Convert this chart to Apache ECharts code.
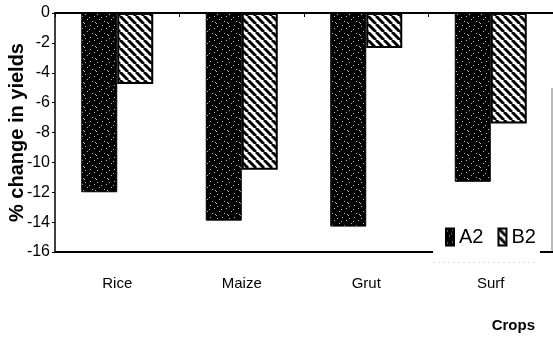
<!DOCTYPE html>
<html>
<head>
<meta charset="utf-8">
<script src="https://cdn.jsdelivr.net/npm/echarts@6/dist/echarts.min.js"></script>
<style>
  html, body { margin: 0; padding: 0; background: #fff; }
  #chart { width: 553px; height: 339px; }
</style>
</head>
<body>
<div id="chart"></div>
<script>
  // data
  const crops = ['Rice', 'Maize', 'Grut', 'Surf'];
  const a2 = [-12.0, -13.9, -14.3, -11.3];
  const b2 = [-4.75, -10.5, -2.35, -7.4];
  const yTicks = { min: -16, max: 0, interval: 2 };

  const FONT = "'Liberation Sans', Arial, sans-serif";

  // stippled black fill for A2
  function dotPattern() {
    const c = document.createElement('canvas');
    c.width = 12; c.height = 12;
    const ctx = c.getContext('2d');
    ctx.fillStyle = '#000';
    ctx.fillRect(0, 0, 12, 12);
    ctx.fillStyle = 'rgba(255,255,255,0.75)';
    const pts = [[1, 2], [6, 1], [10, 4], [3, 7], [8, 9], [0, 11], [5, 5], [11, 10]];
    pts.forEach(p => ctx.fillRect(p[0], p[1], 1, 1));
    return c;
  }

  // diagonal hatch for B2
  function hatchPattern() {
    const s = 8;
    const c = document.createElement('canvas');
    c.width = s; c.height = s;
    const ctx = c.getContext('2d');
    ctx.fillStyle = '#fff';
    ctx.fillRect(0, 0, s, s);
    ctx.strokeStyle = '#000';
    ctx.lineWidth = 3;
    for (let k = -1; k <= 1; k++) {
      ctx.beginPath();
      ctx.moveTo(k * s, 0);
      ctx.lineTo(k * s + s, s);
      ctx.stroke();
    }
    return c;
  }

  const chart = echarts.init(document.getElementById('chart'));
  const option = {
    backgroundColor: '#fff',
    animation: false,
    textStyle: { fontFamily: FONT, color: '#000' },
    grid: { left: 55, right: 0, top: 13, bottom: 87, containLabel: false, outerBoundsMode: 'none' },
    legend: {
      data: ['A2', 'B2'],
      left: 433,
      top: 215,
      padding: [12, 4, 15, 12],
      backgroundColor: '#fff',
      icon: 'rect',
      itemWidth: 8,
      itemHeight: 17,
      itemGap: 14,
      textStyle: { fontFamily: FONT, fontSize: 20, color: '#000' }
    },
    xAxis: [{
      type: 'category',
      data: crops,
      position: 'bottom',
      axisLine: { onZero: false, lineStyle: { color: '#000', width: 2 } },
      axisTick: { show: false },
      axisLabel: { margin: 24, fontSize: 15, color: '#000', fontFamily: FONT }
    }, {
      type: 'category',
      data: crops,
      position: 'top',
      axisLine: { onZero: false, lineStyle: { color: '#000', width: 2 } },
      axisTick: { show: true, inside: true, length: 4, lineStyle: { color: '#000' } },
      axisLabel: { show: false }
    }],
    yAxis: {
      type: 'value',
      min: yTicks.min,
      max: yTicks.max,
      interval: yTicks.interval,
      name: '% change in yields',
      nameLocation: 'middle',
      nameGap: 28,
      nameMoveOverlap: false,
      nameTextStyle: { fontSize: 20, fontWeight: 'bold', color: '#000', fontFamily: FONT },
      axisLine: { show: true, lineStyle: { color: '#000', width: 1.5 } },
      axisTick: { show: true, length: 3, lineStyle: { color: '#000' } },
      axisLabel: { fontSize: 16, color: '#000', margin: 5, fontFamily: FONT },
      splitLine: { show: false }
    },
    series: [{
      name: 'A2',
      type: 'bar',
      data: a2,
      barWidth: 36,
      barGap: '0%',
      itemStyle: {
        color: { image: dotPattern(), repeat: 'repeat' },
        borderColor: '#000',
        borderWidth: 1
      }
    }, {
      name: 'B2',
      type: 'bar',
      data: b2,
      barWidth: 36,
      itemStyle: {
        color: { image: hatchPattern(), repeat: 'repeat' },
        borderColor: '#000',
        borderWidth: 2
      }
    }],
    graphic: [{
      type: 'text',
      right: 18,
      top: 318,
      style: { text: 'Crops', fontSize: 15, fontWeight: 'bold', fill: '#000', fontFamily: FONT }
    }, {
      // faint frame edges left over around the legend
      type: 'line',
      shape: { x1: 552, y1: 88, x2: 552, y2: 252 },
      style: { stroke: '#777', lineWidth: 1 }
    }, {
      type: 'line',
      shape: { x1: 433, y1: 262, x2: 537, y2: 262 },
      style: { stroke: '#bbb', lineWidth: 1, lineDash: [2, 3] }
    }]
  };
  chart.setOption(option);
</script>
</body>
</html>
